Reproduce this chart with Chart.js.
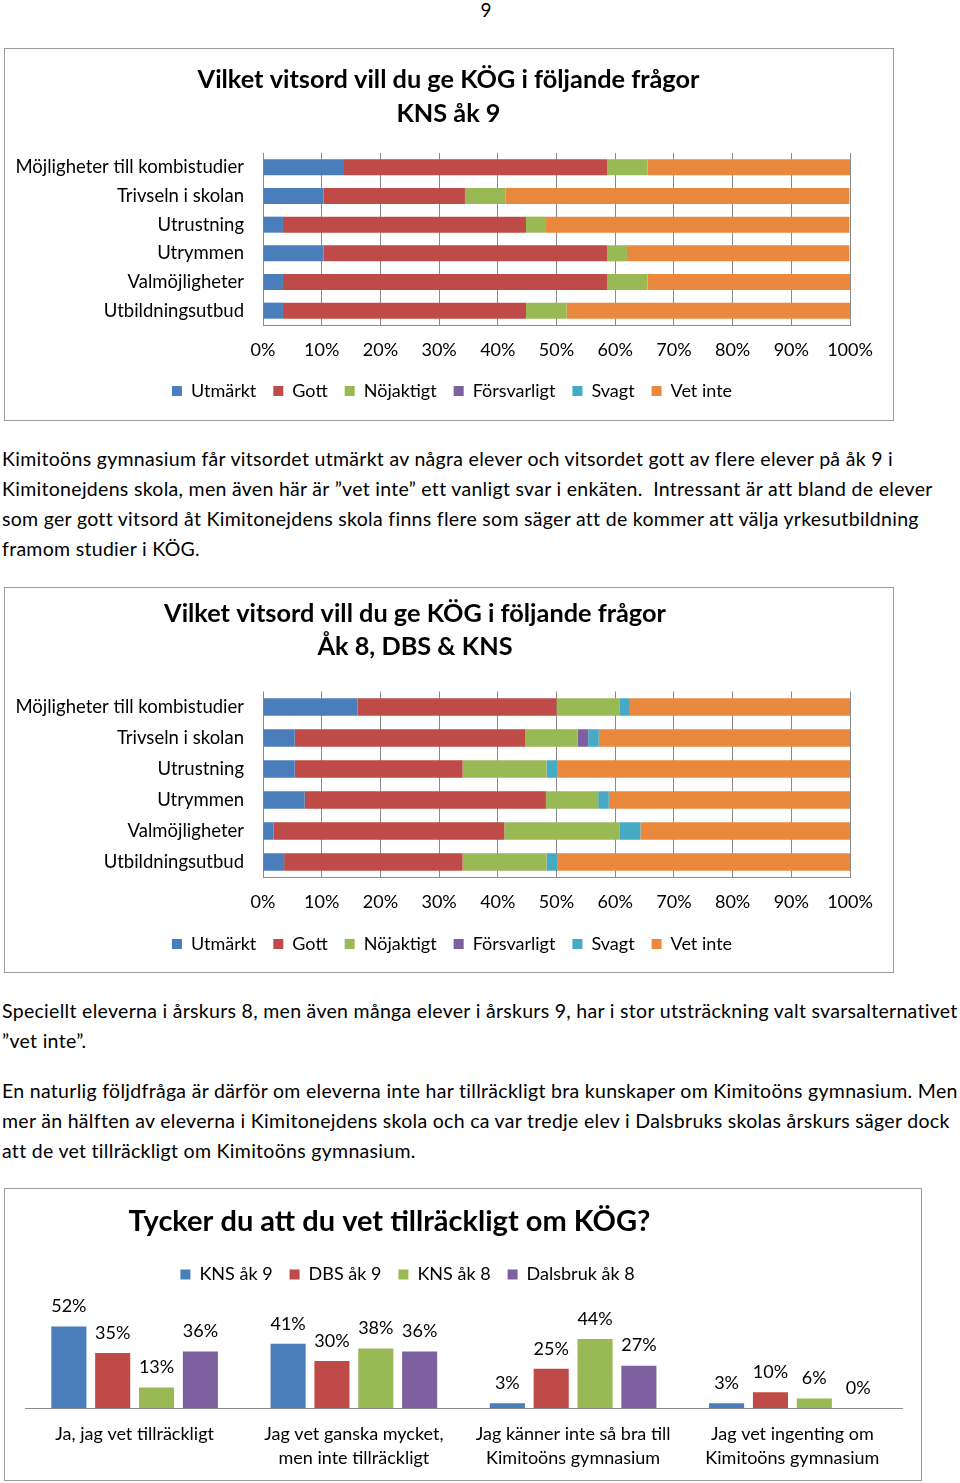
<!DOCTYPE html>
<html>
<head>
<meta charset="utf-8">
<script src="https://cdn.jsdelivr.net/npm/chart.js@4/dist/chart.umd.min.js"></script>
<style>
  body { margin: 0; width: 960px; height: 1483px; overflow: hidden; background: #fff;
         font-family: Lato, sans-serif; color: #000; position: relative; }
  .box { position: absolute; border: 1px solid #9c9c9c; box-sizing: border-box; background: #fff; }
  .box canvas { position: absolute; left: 0; top: 0; }
  .txt { position: absolute; left: 2px; font-size: 19.5px; letter-spacing: 0.3px; line-height: 30px; white-space: nowrap; }
  #pagenr { position: absolute; left: 0; width: 972px; top: -2px; text-align: center; font-size: 19px; }
</style>
</head>
<body>

<div id="pagenr">9</div>

<div class="box" style="left:4px; top:48px; width:890px; height:373px;">
  <canvas id="chart1" width="888" height="371"></canvas>
</div>

<div class="txt" style="top:444px;">
  Kimitoöns gymnasium får vitsordet utmärkt av några elever och vitsordet gott av flere elever på åk 9 i<br>
  Kimitonejdens skola, men även här är ”vet inte” ett vanligt svar i enkäten.&nbsp; Intressant är att bland de elever<br>
  som ger gott vitsord åt Kimitonejdens skola finns flere som säger att de kommer att välja yrkesutbildning<br>
  framom studier i KÖG.
</div>

<div class="box" style="left:4px; top:587px; width:890px; height:386px;">
  <canvas id="chart2" width="888" height="384"></canvas>
</div>

<div class="txt" style="top:996px;">
  Speciellt eleverna i årskurs 8, men även många elever i årskurs 9, har i stor utsträckning valt svarsalternativet<br>
  ”vet inte”.
</div>
<div class="txt" style="top:1076px;">
  En naturlig följdfråga är därför om eleverna inte har tillräckligt bra kunskaper om Kimitoöns gymnasium. Men<br>
  mer än hälften av eleverna i Kimitonejdens skola och ca var tredje elev i Dalsbruks skolas årskurs säger dock<br>
  att de vet tillräckligt om Kimitoöns gymnasium.
</div>

<div class="box" style="left:4px; top:1188px; width:918px; height:293px;">
  <canvas id="chart3" width="916" height="291"></canvas>
</div>

<script>
// ---- data ----
const questions = ['Möjligheter till kombistudier', 'Trivseln i skolan', 'Utrustning',
                   'Utrymmen', 'Valmöjligheter', 'Utbildningsutbud'];
const grades = ['Utmärkt', 'Gott', 'Nöjaktigt', 'Försvarligt', 'Svagt', 'Vet inte'];
const gradeColors = ['#4a7ebb', '#be4b48', '#98b954', '#7d60a0', '#46aac5', '#ea883d'];
const percentTicks = [0, 10, 20, 30, 40, 50, 60, 70, 80, 90, 100];

// KNS åk 9, % per question (order as in questions)
const kns9Utmarkt     = [13.8, 10.3,  3.4, 10.3,  3.4,  3.4];
const kns9Gott        = [44.8, 24.1, 41.4, 48.3, 55.2, 41.4];
const kns9Nojaktigt   = [ 6.9,  6.9,  3.4,  3.4,  6.9,  6.9];
const kns9Forsvarligt = [ 0,    0,    0,    0,    0,    0  ];
const kns9Svagt       = [ 0,    0,    0,    0,    0,    0  ];
const kns9VetInte     = [34.5, 58.6, 51.7, 37.9, 34.5, 48.3];

// Åk 8, DBS & KNS
const ak8Utmarkt     = [16.1,  5.4,  5.4,  7.1,  1.8,  3.6];
const ak8Gott        = [33.9, 39.3, 28.6, 41.1, 39.3, 30.4];
const ak8Nojaktigt   = [10.7,  8.9, 14.3,  8.9, 19.6, 14.3];
const ak8Forsvarligt = [ 0,    1.8,  0,    0,    0,    0  ];
const ak8Svagt       = [ 1.8,  1.8,  1.8,  1.8,  3.6,  1.8];
const ak8VetInte     = [37.5, 42.9, 50.0, 41.1, 35.7, 50.0];

// Tycker du att du vet tillräckligt om KÖG?
const answers = [['Ja, jag vet tillräckligt'],
                 ['Jag vet ganska mycket,', 'men inte tillräckligt'],
                 ['Jag känner inte så bra till', 'Kimitoöns gymnasium'],
                 ['Jag vet ingenting om', 'Kimitoöns gymnasium']];
const groups = ['KNS åk 9', 'DBS åk 9', 'KNS åk 8', 'Dalsbruk åk 8'];
const groupColors = ['#4a7ebb', '#be4b48', '#98b954', '#7d60a0'];
const knsAk9      = [52, 41,  3,  3];
const dbsAk9      = [35, 30, 25, 10];
const knsAk8      = [13, 38, 44,  6];
const dalsbrukAk8 = [36, 36, 27,  0];

const FONT = 'Lato';
Chart.defaults.font.family = FONT;
Chart.defaults.color = '#000';
Chart.defaults.animation = false;

// moves title / legend sideways, the original charts are not centred on the frame
const shiftBlocks = {
  id: 'shiftBlocks',
  afterLayout(chart, args, opts) {
    if (chart.titleBlock && opts.title) { chart.titleBlock.left += opts.title; chart.titleBlock.right += opts.title; }
    if (chart.legend && opts.legend) { chart.legend.left += opts.legend; chart.legend.right += opts.legend; }
  }
};

// value labels on top of bars
const barValues = {
  id: 'barValues',
  afterDatasetsDraw(chart) {
    const ctx = chart.ctx;
    ctx.save();
    ctx.font = '18px ' + FONT;
    ctx.fillStyle = '#000';
    ctx.textAlign = 'center';
    ctx.textBaseline = 'middle';
    chart.data.datasets.forEach((ds, i) => {
      chart.getDatasetMeta(i).data.forEach((bar, j) => {
        ctx.fillText(ds.data[j] + '%', bar.x, bar.y - 20);
      });
    });
    ctx.restore();
  }
};

function stackedChart(id, title, series, geo) {
  return new Chart(document.getElementById(id), {
    type: 'bar',
    plugins: [shiftBlocks],
    data: {
      labels: questions,
      datasets: grades.map((g, i) => ({
        label: g,
        data: series[i],
        backgroundColor: gradeColors[i],
        borderWidth: 0,
        barPercentage: 0.56,
        categoryPercentage: 1
      }))
    },
    options: {
      indexAxis: 'y',
      responsive: false,
      layout: { padding: { left: 0, right: 43, top: 0, bottom: geo.padBottom } },
      scales: {
        x: {
          stacked: true,
          min: 0, max: 100,
          afterBuildTicks: s => { s.ticks = percentTicks.map(v => ({ value: v })); },
          afterFit: s => { s.height = geo.xHeight; },
          ticks: { font: { size: 18 }, padding: geo.tickPad, callback: v => v + '%' },
          grid: { color: '#8a8a8a', drawTicks: false },
          border: { color: '#8a8a8a' }
        },
        y: {
          stacked: true,
          afterFit: s => { s.width = 258; },
          ticks: { font: { size: 18.5 }, padding: 19 },
          grid: { display: false, drawTicks: false },
          border: { display: false }
        }
      },
      plugins: {
        title: {
          display: true,
          text: title,
          font: { size: 25.3, weight: 'bold', lineHeight: geo.titleLine + 'px' },
          color: '#000',
          padding: { top: geo.titleTop, bottom: geo.titleBottom }
        },
        legend: {
          position: 'bottom',
          labels: { font: { size: 18 }, boxWidth: 10, boxHeight: 10, padding: 17 }
        },
        tooltip: { enabled: false },
        shiftBlocks: { title: geo.titleDx, legend: 24.5 }
      }
    }
  });
}

stackedChart('chart1', ['Vilket vitsord vill du ge KÖG i följande frågor', 'KNS åk 9'],
  [kns9Utmarkt, kns9Gott, kns9Nojaktigt, kns9Forsvarligt, kns9Svagt, kns9VetInte],
  { titleLine: 34, titleTop: 14, titleBottom: 22, xHeight: 40, tickPad: 14, padBottom: 10, titleDx: 21 });

stackedChart('chart2', ['Vilket vitsord vill du ge KÖG i följande frågor', 'Åk 8, DBS & KNS'],
  [ak8Utmarkt, ak8Gott, ak8Nojaktigt, ak8Forsvarligt, ak8Svagt, ak8VetInte],
  { titleLine: 33, titleTop: 9.5, titleBottom: 28, xHeight: 40.5, tickPad: 13.7, padBottom: 9, titleDx: -12.5 });

new Chart(document.getElementById('chart3'), {
  type: 'bar',
  plugins: [shiftBlocks, barValues],
  data: {
    labels: answers,
    datasets: [knsAk9, dbsAk9, knsAk8, dalsbrukAk8].map((d, i) => ({
      label: groups[i],
      data: d,
      backgroundColor: groupColors[i],
      borderWidth: 0,
      barPercentage: 0.8,
      categoryPercentage: 0.8
    }))
  },
  options: {
    responsive: false,
    layout: { padding: { left: 20, right: 19, top: 0, bottom: 0 } },
    scales: {
      x: {
        afterFit: s => { s.height = 72; },
        ticks: { font: { size: 18, lineHeight: '24px' }, padding: 14, maxRotation: 0, autoSkip: false },
        grid: { display: false, drawTicks: false },
        border: { color: '#8a8a8a' }
      },
      y: { display: false, min: 0, max: 73 }
    },
    plugins: {
      title: {
        display: true,
        text: 'Tycker du att du vet tillräckligt om KÖG?',
        font: { size: 29, weight: 'bold', lineHeight: '35px' },
        color: '#000',
        padding: { top: 15.5, bottom: 9 }
      },
      legend: {
        position: 'top',
        labels: { font: { size: 18 }, boxWidth: 10, boxHeight: 10, padding: 17 }
      },
      tooltip: { enabled: false },
      shiftBlocks: { title: -74, legend: -56 }
    }
  }
});
</script>
</body>
</html>
